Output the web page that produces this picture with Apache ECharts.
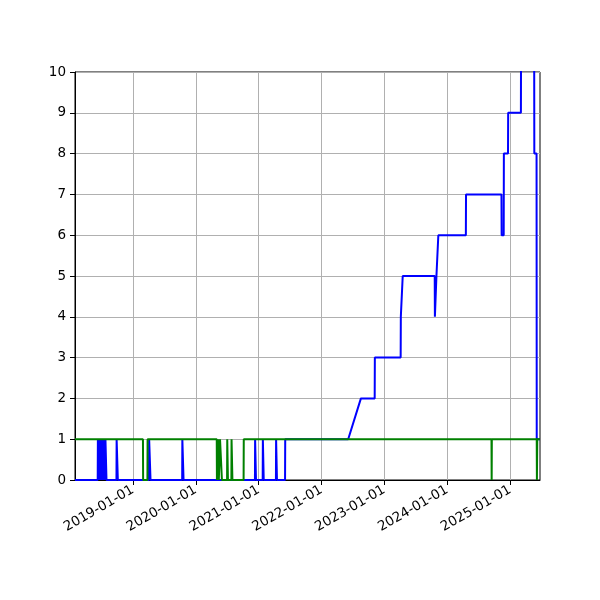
<!DOCTYPE html>
<html>
<head>
<meta charset="utf-8">
<script src="https://cdn.jsdelivr.net/npm/echarts@6/dist/echarts.min.js"></script>
<style>
  html, body { margin: 0; padding: 0; background: #fff; }
  #main { width: 600px; height: 600px; }
</style>
</head>
<body>
<div id="main"></div>
<script>
// x axis range and yearly ticks
var xMin = '2018-01-29';
var xMax = '2025-06-24';
var xTicks = ['2019-01-01', '2020-01-01', '2021-01-01', '2022-01-01',
              '2023-01-01', '2024-01-01', '2025-01-01'];

// blue series
var blueDates = [
  '2018-01-29', '2018-06-10',
  '2018-06-11', '2018-06-14', '2018-06-15', '2018-06-17', '2018-06-18', '2018-06-21',
  '2018-06-22', '2018-06-25', '2018-06-26', '2018-06-29', '2018-06-30', '2018-07-04',
  '2018-07-05', '2018-07-09', '2018-07-10', '2018-07-14', '2018-07-15', '2018-07-19',
  '2018-07-20', '2018-07-24', '2018-07-25', '2018-07-30', '2018-07-31',
  '2018-09-27', '2018-09-28', '2018-10-04', '2018-10-05',
  '2019-04-04', '2019-04-05', '2019-04-12', '2019-04-13',
  '2019-10-14', '2019-10-15', '2019-10-21', '2019-10-22',
  '2020-12-10', '2020-12-11', '2020-12-15', '2020-12-16',
  '2021-01-24', '2021-01-25', '2021-01-29', '2021-01-30',
  '2021-04-11', '2021-04-12', '2021-04-16', '2021-04-17',
  '2021-06-03', '2021-06-04',
  '2022-06-05', '2022-08-18',
  '2022-11-06', '2022-11-07',
  '2023-04-06', '2023-04-07', '2023-04-17', '2023-04-18',
  '2023-10-21', '2023-10-22', '2023-10-30', '2023-10-31',
  '2023-11-10', '2023-11-11',
  '2024-04-19', '2024-04-20',
  '2024-11-12', '2024-11-13', '2024-11-25', '2024-11-26',
  '2024-12-20', '2024-12-21',
  '2025-03-05', '2025-03-06',
  '2025-05-21', '2025-05-22',
  '2025-06-04', '2025-06-05', '2025-06-24'
];
var blueValues = [
  0, 0,
  1, 1, 0, 0, 1, 1,
  0, 0, 1, 1, 0, 0,
  1, 1, 0, 0, 1, 1,
  0, 0, 1, 1, 0,
  0, 1, 1, 0,
  0, 1, 1, 0,
  0, 1, 1, 0,
  0, 1, 1, 0,
  0, 1, 1, 0,
  0, 1, 1, 0,
  0, 1,
  1, 2,
  2, 3,
  3, 4, 4, 5,
  5, 4, 4, 5,
  5, 6,
  6, 7,
  7, 6, 6, 8,
  8, 9,
  9, 11,
  11, 8,
  8, 1, 1
];

// green series
var greenDates = [
  '2018-01-29', '2019-02-28', '2019-03-01', '2019-03-26', '2019-03-27',
  '2020-05-02', '2020-05-03', '2020-05-09', '2020-05-10', '2020-05-13', '2020-05-14',
  '2020-05-20', '2020-05-21', '2020-05-31', '2020-06-01',
  '2020-07-01', '2020-07-02', '2020-07-05', '2020-07-06',
  '2020-07-26', '2020-07-27', '2020-07-31', '2020-08-01',
  '2020-10-05', '2020-10-06',
  '2024-09-15', '2024-09-16', '2024-09-17',
  '2025-06-05', '2025-06-06', '2025-06-08', '2025-06-24'
];
var greenValues = [
  1, 1, 0, 0, 1,
  1, 0, 0, 1, 1, 0,
  0, 1, 1, 0,
  0, 1, 1, 0,
  0, 1, 1, 0,
  0, 1,
  1, 0, 1,
  1, 0, 1, 1
];

function ts(d) { return echarts.time.parse(d).getTime(); }
function pairs(ds, vs) {
  return ds.map(function (d, i) { return [ts(d), vs[i]]; });
}

var tickTimes = xTicks.map(ts);

var chart = echarts.init(document.getElementById('main'), null, { renderer: 'canvas' });
chart.setOption({
  animation: false,
  backgroundColor: '#ffffff',
  textStyle: { fontFamily: 'DejaVu Sans' },
  grid: {
    left: 75, right: 60, top: 72, bottom: 120,
    show: true, borderColor: '#000000', borderWidth: 1, backgroundColor: 'transparent'
  },
  xAxis: {
    type: 'value',
    min: ts(xMin),
    max: ts(xMax),
    axisLine: { show: true, onZero: false, lineStyle: { color: '#000', width: 1 } },
    axisTick: { show: true, inside: false, length: 5, customValues: tickTimes,
                lineStyle: { color: '#000', width: 1 } },
    axisLabel: {
      show: true, customValues: tickTimes, rotate: 30, margin: 9,
      fontSize: 13.5, color: '#000', fontFamily: 'DejaVu Sans',
      formatter: function (v) { return echarts.format.formatTime('yyyy-MM-dd', v); }
    },
    splitLine: { show: true, lineStyle: { color: '#b0b0b0', width: 1 } }
  },
  yAxis: {
    type: 'value',
    min: 0, max: 10, interval: 1,
    axisLine: { show: true, lineStyle: { color: '#000', width: 1 } },
    axisTick: { show: true, inside: false, length: 5, lineStyle: { color: '#000', width: 1 } },
    axisLabel: { margin: 9, fontSize: 13.5, color: '#000', fontFamily: 'DejaVu Sans' },
    splitLine: { show: true, lineStyle: { color: '#b0b0b0', width: 1 } }
  },
  series: [
    {
      name: 'blue', type: 'line', showSymbol: false, symbol: 'none', clip: true,
      lineStyle: { color: '#0000ff', width: 2 }, itemStyle: { color: '#0000ff' },
      data: pairs(blueDates, blueValues)
    },
    {
      name: 'green', type: 'line', showSymbol: false, symbol: 'none', clip: true,
      lineStyle: { color: '#008000', width: 2 }, itemStyle: { color: '#008000' },
      data: pairs(greenDates, greenValues)
    }
  ]
});
</script>
</body>
</html>
